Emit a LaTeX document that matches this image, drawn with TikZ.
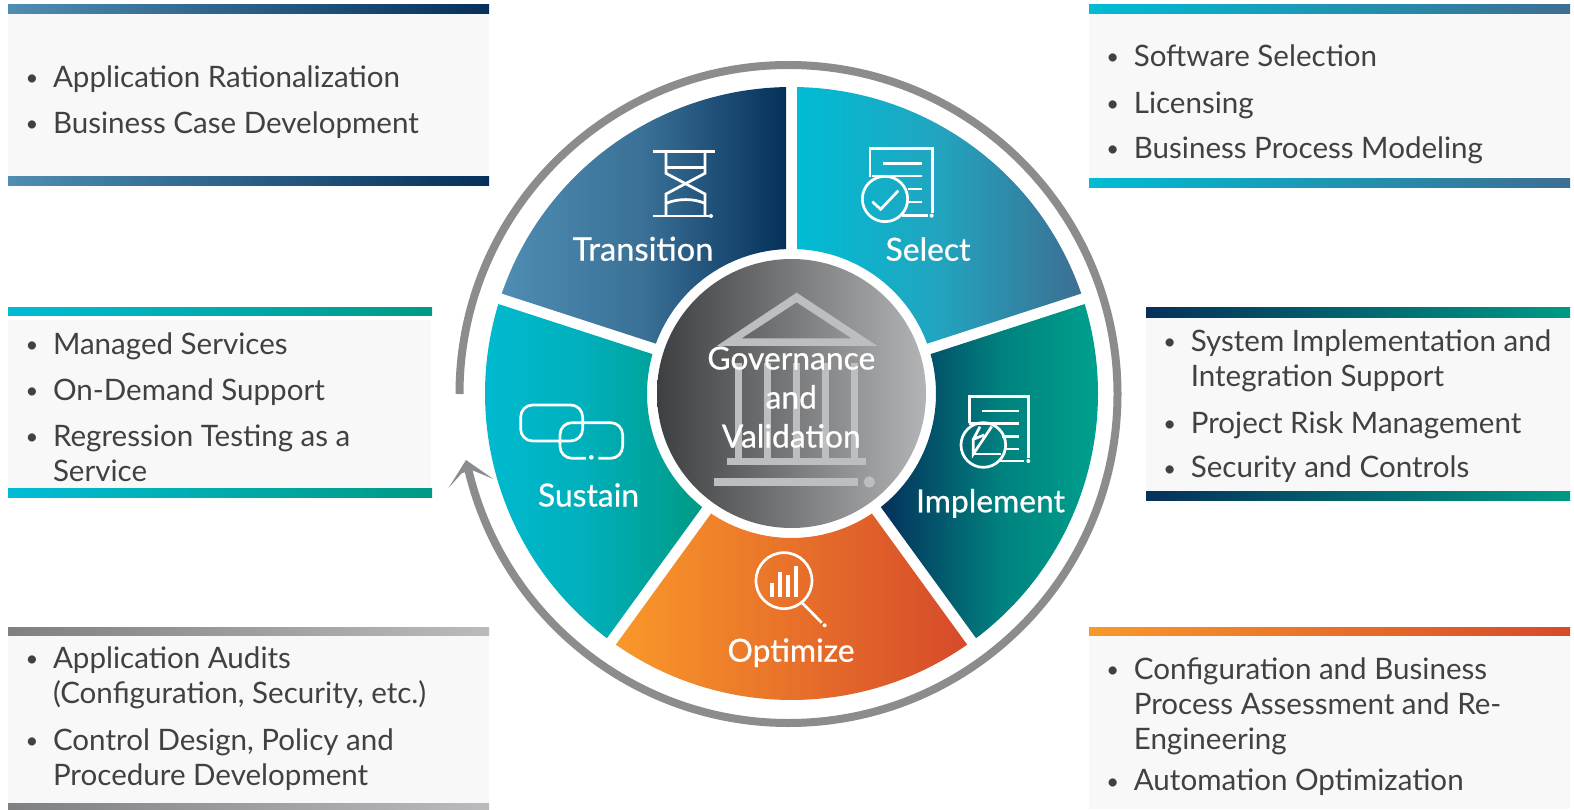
\documentclass[tikz,border=0pt]{standalone}
\usepackage{fontspec}
\setmainfont{Lato}
\newfontfamily\stagefont[FakeBold=0.6]{Lato}
\usetikzlibrary{calc}
\usetikzlibrary{positioning}
\definecolor{ringgray}{HTML}{8B8C8E}
\definecolor{panelgray}{HTML}{F8F8F8}
\definecolor{txtgray}{HTML}{404142}
\definecolor{buildgray}{HTML}{BDBEBF}
\definecolor{tealA}{HTML}{00BCD4}
\definecolor{tealB}{HTML}{009A85}
\definecolor{tealC}{HTML}{00A890}
\definecolor{tealM}{HTML}{00B0BC}
\definecolor{navyA}{HTML}{05305A}
\definecolor{navyM}{HTML}{00827F}
\definecolor{steelA}{HTML}{4F8DB3}
\definecolor{steelB}{HTML}{3D6E92}
\definecolor{steelM}{HTML}{3A7096}
\definecolor{skyM}{HTML}{22A4BF}
\definecolor{orangeA}{HTML}{F9982A}
\definecolor{orangeB}{HTML}{D64A2A}
\definecolor{darkA}{HTML}{3E3F41}
\definecolor{darkB}{HTML}{B3B4B6}
\definecolor{barA}{HTML}{7F8082}
\definecolor{barB}{HTML}{BBBBBD}
\tikzset{
  pointtext/.style={anchor=base west, align=left, inner sep=0pt, text=txtgray,
                    font=\fontsize{29.55}{35}\selectfont},
  pointdot/.style={anchor=base, inner sep=0pt, text=txtgray,
                   font=\fontsize{22}{25}\selectfont},
  stagetext/.style={anchor=base, inner sep=0pt, text=white,
                    font=\stagefont\fontsize{31.8}{39}\selectfont},
  iconline/.style={draw=white, line width=2.7pt},
  icondot/.style={fill=white},
  zoomed/.style={shift={(#1)}, x=.3333pt, y=-.3333pt}
}
\newcommand{\petal}[3]{
  \shade[#3]
    ($(hub)+({#1+1.03}:306.5)$) arc[start angle=#1+1.03, end angle=#2-1.03, radius=306.5]
    -- ($(hub)+({#2-2.18}:144.5)$) arc[start angle=#2-2.18, end angle=#1+2.18, radius=144.5]
    -- cycle;
}
\newcommand{\pbar}[6]{
  \shade[left color=#5, right color=#6] (#1,-#3) rectangle (#2,-#4);
}
\newcommand{\bitem}[5][0]{
  \node[pointtext] (#2) at (#3-.7,{-#4-.7-35*#1}) {#5};
  \node[pointdot] (#2-dot) at (#3-21.5,-#4+1) {•};
}
\begin{document}
\begin{tikzpicture}[x=1pt,y=1pt]
  \useasboundingbox (0,0) rectangle (1574,-810);
  \coordinate (hub) at (791.5,-393.5);
  \coordinate (ringhub) at (788.5,-394);

  \fill[panelgray] (8,-14) rectangle (489,-177);
  \pbar{8}{489}{5}{14}{steelA}{navyA}
  \pbar{8}{489}{177}{186}{steelA}{navyA}
  \fill[panelgray] (1089,-14) rectangle (1570,-179);
  \pbar{1089}{1570}{5}{14}{tealA}{steelB}
  \pbar{1089}{1570}{179}{188}{tealA}{steelB}
  \fill[panelgray] (8,-320) rectangle (431,-488);
  \pbar{8}{432}{308}{316}{tealA}{tealB}
  \pbar{8}{432}{488}{497}{tealA}{tealB}
  \fill[panelgray] (1146,-318) rectangle (1570,-491);
  \pbar{1146}{1570}{308}{318}{navyA}{tealB}
  \pbar{1146}{1570}{491.5}{500}{navyA}{tealB}
  \fill[panelgray] (8,-635) rectangle (489,-803);
  \pbar{8}{489}{627}{635}{barA}{barB}
  \pbar{8}{489}{803}{810}{barA}{barB}
  \fill[panelgray] (1089,-635) rectangle (1570,-809);
  \pbar{1089}{1570}{627}{635}{orangeA}{orangeB}

  \bitem{rational}{53.5}{87}{Application Rationalization}
  \bitem{bizcase}{53.5}{133}{Business Case Development}
  \bitem{software}{1134.3}{65.7}{Software Selection}
  \bitem{licensing}{1134.3}{112.7}{Licensing}
  \bitem{modeling}{1134.3}{157.7}{Business Process Modeling}
  \bitem{managed}{53.5}{353.3}{Managed Services}
  \bitem{ondemand}{53.5}{399.3}{On-Demand Support}
  \bitem[1]{regress}{53.5}{445.7}{Regression Testing as a\\Service}
  \bitem[1]{sysimpl}{1191.3}{350.7}{System Implementation and\\Integration Support}
  \bitem{projrisk}{1191.3}{432.3}{Project Risk Management}
  \bitem{security}{1191.3}{477.2}{Security and Controls}
  \bitem[1]{audits}{53.5}{667.7}{Application Audits\\(Configuration, Security, etc.)}
  \bitem[1]{control}{53.5}{749.3}{Control Design, Policy and\\Procedure Development}
  \bitem[2]{config}{1134.3}{678.3}{Configuration and Business\\Process Assessment and Re-\\Engineering}
  \bitem{autom}{1134.3}{790}{Automation Optimization}

  \petal{18}{90}{left color=tealA, right color=steelB, middle color=skyM}
  \petal{90}{162}{left color=steelA, right color=navyA, middle color=steelM}
  \petal{162}{234}{left color=tealA, right color=tealB, middle color=tealM}
  \petal{234}{306}{left color=orangeA, right color=orangeB}
  \petal{306}{378}{left color=navyA, right color=tealC, middle color=navyM}
  \shade[left color=darkA, right color=darkB] (hub) circle[radius=134.5];

  \coordinate (ringstart) at ($(ringhub)+(180:329)$);
  \draw[ringgray, line width=8pt] (ringstart) arc[start angle=180, end angle=-166.5, radius=329];
  \fill[ringgray] (466,-460) -- (493.3,-479) -- (471.7,-470) -- (461.7,-473.3) -- (448.3,-488.3) -- cycle;

  % building
  \begin{scope}[zoomed={640,-270}]
    \fill[buildgray, even odd rule] (470,68) -- (712,228) -- (230,228) -- cycle
                                    (470,97) -- (635,205) -- (305,205) -- cycle;
    \foreach \cx in {285,372,460,546,632}
      \fill[buildgray] (\cx,280) rectangle (\cx+21,564);
    \fill[buildgray] (260,564) rectangle (678,585);
    \fill[buildgray] (223,625) rectangle (655,648);
    \fill[buildgray] (688,636) circle[radius=17];
  \end{scope}
  \node[stagetext, align=center] (govern) at (791.3,-447.5) {Governance\\and\\Validation};

  % hourglass
  \begin{scope}[zoomed={440,-50}]
    \draw[iconline] (640,305) -- (825,305) (640,498) -- (806,498);
    \draw[iconline] (678,305) -- (678,370) -- (795,432) -- (795,498);
    \draw[iconline] (795,305) -- (795,370) -- (678,432) -- (678,498);
    \draw[iconline] (678,352) -- (795,352);
    \draw[iconline] (678,460) .. controls (715,445) and (760,445) .. (795,460);
    \fill[icondot] (813,498) circle[radius=6];
  \end{scope}
  \node[stagetext, font=\stagefont\fontsize{32.7}{39}\selectfont] (transition) at (643,-260.7) {Transition};

  % checked sheet
  \begin{scope}[zoomed={780,-50}]
    \draw[iconline] (270,380) -- (270,295) -- (457,295) -- (457,490);
    \draw[iconline] (310,340) -- (425,340) (275,378) -- (425,378)
                    (385,417) -- (425,417) (385,456) -- (425,456) (365,496) -- (443,496);
    \draw[iconline] (315,447) circle[radius=68];
    \draw[iconline] (277,455) -- (302,478) -- (355,422);
    \fill[icondot] (455,497) circle[radius=6];
  \end{scope}
  \node[stagetext] (select) at (928,-260.7) {Select};

  % chart sheet
  \begin{scope}[zoomed={880,-380}]
    \draw[iconline] (268,130) -- (268,50) -- (446,50) -- (446,235);
    \draw[iconline] (305,93) -- (416,93) (268,130) -- (416,130)
                    (365,170) -- (416,170) (378,207) -- (416,207) (355,243) -- (432,243);
    \draw[iconline] (310,195) circle[radius=67];
    \draw[iconline] (300,140) -- (280,178) -- (280,222) -- (335,140) (280,178) -- (312,165);
    \draw[iconline] (280,222) -- (362,222);
    \fill[icondot] (445,243) circle[radius=6];
  \end{scope}
  \node[stagetext] (implement) at (990.5,-512.3) {Implement};

  % magnifier
  \begin{scope}[zoomed={610,-540}]
    \draw[iconline] (522,122) circle[radius=84];
    \foreach \bx/\by in {481/130,505/95,529/105,553/78}
      \fill[white] (\bx,\by) rectangle (\bx+10,170);
    \draw[iconline] (578,190) -- (635,248);
    \fill[icondot] (644,256) circle[radius=6];
  \end{scope}
  \node[stagetext] (optimize) at (791,-661.7) {Optimize};

  % chain links
  \begin{scope}[zoomed={430,-380}]
    \draw[iconline, rounded corners=12pt] (272,75) rectangle (458,183);
    \draw[iconline, rounded corners=12pt] (468,235) -- (390,235) -- (390,128) -- (578,128) -- (578,235) -- (505,235);
    \fill[icondot] (484,232) circle[radius=7];
  \end{scope}
  \node[stagetext] (sustain) at (588.5,-506.5) {Sustain};
\end{tikzpicture}
\end{document}
